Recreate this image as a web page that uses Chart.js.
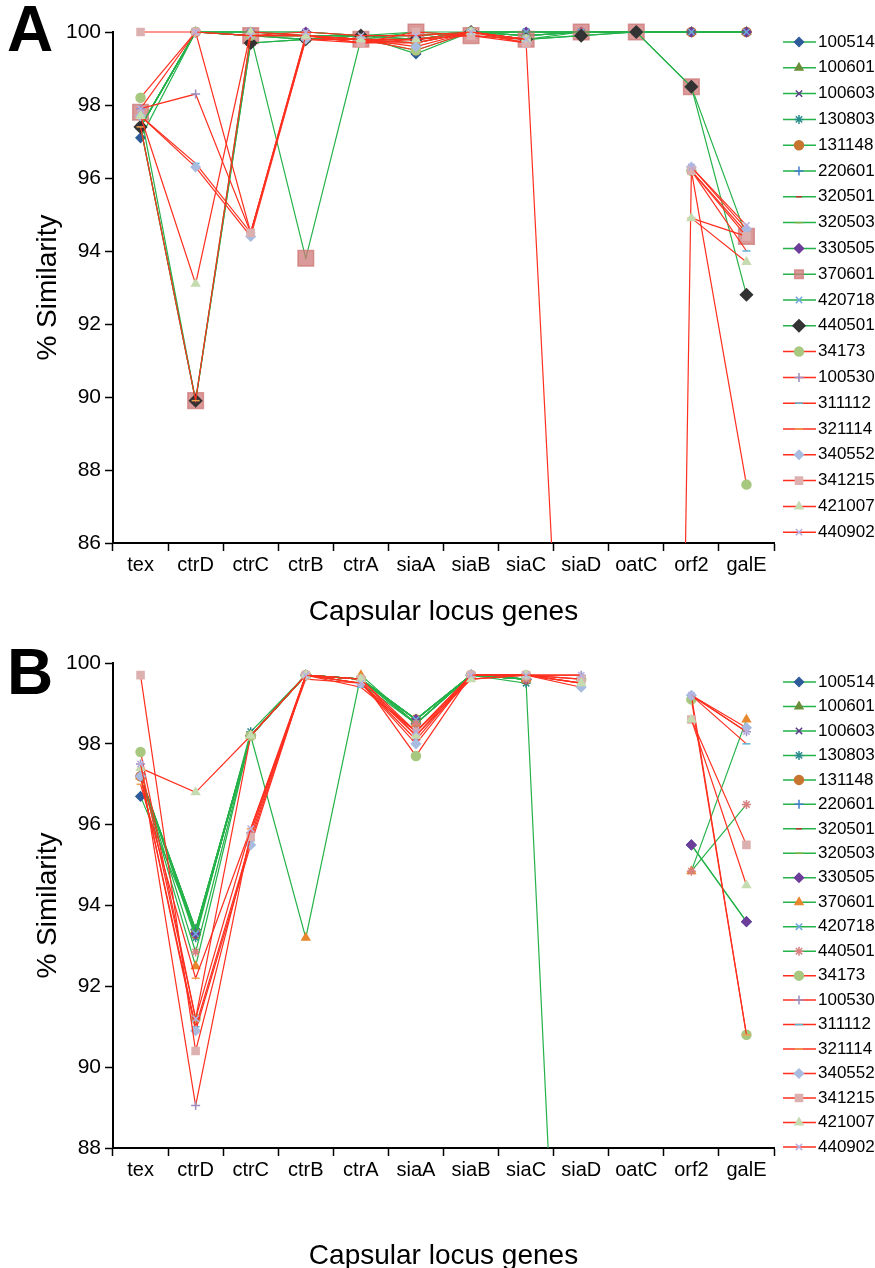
<!DOCTYPE html>
<html>
<head>
<meta charset="utf-8">
<script src="https://cdn.jsdelivr.net/npm/chart.js@4.4.1/dist/chart.umd.min.js"></script>
<style>
html,body{margin:0;padding:0;background:#fff;overflow:hidden;width:875px;height:1268px;}
.panel{position:absolute;left:0;width:875px;}
.letter{position:absolute;left:7px;font:bold 64px "Liberation Sans",Arial,sans-serif;line-height:1;color:#000;}
</style>
</head>
<body>
<div class="panel" style="top:0;height:634px"><canvas id="chartA" width="875" height="634"></canvas></div>
<div class="letter" style="top:-3px">A</div>
<div class="panel" style="top:634px;height:660px"><canvas id="chartB" width="875" height="660"></canvas></div>
<div class="letter" style="top:640px">B</div>
<script>
// 遺伝子（横軸）と株名
const genes = ['tex', 'ctrD', 'ctrC', 'ctrB', 'ctrA', 'siaA', 'siaB', 'siaC', 'siaD', 'oatC', 'orf2', 'galE'];
const strains = ['100514', '100601', '100603', '130803', '131148', '220601', '320501', '320503',
                 '330505', '370601', '420718', '440501', '34173', '100530', '311112', '321114',
                 '340552', '341215', '421007', '440902'];

// パネルA（緑の系列）
const A_100514 = [97.1, 100, 99.9, 99.8, 99.9, 99.4, 100, 99.9, 100, 100, 100, 100];
const A_100601 = [97.4, 89.9, 99.7, 99.8, 99.8, 99.7, 100, 99.9, 100, 100, 100, 100];
const A_100603 = [97.4, 100, 100, 100, 99.9, 100, 100, 100, 100, 100, 100, 100];
const A_130803 = [97.4, 100, 99.9, 99.9, 99.9, 99.9, 100, 100, 100, 100, 100, 100];
const A_131148 = [97.4, 100, 99.9, 99.9, 99.8, 99.5, 100, 99.8, 99.9, 100, 100, 100];
const A_220601 = [97.4, 100, 100, 99.9, 99.9, 99.9, 100, 100, 100, 100, 100, 100];
const A_320501 = [97.4, 100, 99.9, 99.9, 99.8, 99.8, 100, 99.9, 100, 100, 100, 100];
const A_320503 = [97.4, 100, 99.9, 99.8, 99.8, 99.8, 100, 99.9, 100, 100, 100, 100];
const A_330505 = [97.4, 100, 100, 100, 99.9, 99.9, 100, 100, 100, 100, 100, 100];
const A_370601 = [97.8, 89.9, 99.9, 93.8, 99.8, 100, 99.9, 99.8, 100, 100, 98.5, 94.4];
const A_420718 = [97.4, 100, 100, 99.9, 99.9, 99.8, 100, 100, 100, 100, 100, 100];
const A_440501 = [97.4, 89.9, 99.7, 99.8, 99.9, 99.8, 100, 99.8, 99.9, 100, 98.5, 92.8];
// パネルA（赤の系列）
const A_34173  = [98.2, 100, 99.9, 99.9, 99.8, 99.5, 100, 99.8, null, null, 96.2, 87.6];
const A_100530 = [97.9, 98.3, 94.5, 99.9, 99.8, 99.7, 100, 99.7, 70, 0, 96.2, 94.5];
const A_311112 = [97.7, 96.4, 94.5, 99.8, 99.7, 99.8, 99.9, 99.8, null, null, 96.2, 94.0];
const A_321114 = [97.4, 89.9, 99.9, 99.9, 99.7, 99.7, 100, 99.8, null, null, 94.9, 94.4];
const A_340552 = [97.7, 96.3, 94.4, 99.8, 99.8, 99.6, 100, 99.7, null, null, 96.3, 94.6];
const A_341215 = [100, 100, 94.5, 99.9, 99.7, 100, 99.9, 99.7, null, null, 96.2, 94.4];
const A_421007 = [97.7, 93.1, 100, 99.9, 99.8, 99.8, 100, 99.8, null, null, 94.9, 93.7];
const A_440902 = [97.9, 100, 99.9, 100, 99.9, 99.9, 100, 99.8, null, null, 96.3, 94.7];

// パネルB（緑の系列）
const B_100514 = [96.7, 93.4, 98.2, 99.7, 99.6, 98.5, 99.7, 99.6, null, null, 95.5, 93.6];
const B_100601 = [97.2, 93.4, 98.2, 99.7, 99.6, 98.6, 99.7, 99.6, null, null, null, null];
const B_100603 = [97.2, 93.3, 98.2, 99.7, 99.6, 98.6, 99.7, 99.6, null, null, null, null];
const B_130803 = [97.2, 93.2, 98.3, 99.7, 99.5, 98.5, 99.7, 99.5, 70.7, null, null, null];
const B_131148 = [97.2, 93.3, 98.2, 99.7, 99.6, 98.6, 99.7, 99.6, null, null, null, null];
const B_220601 = [97.2, 93.4, 98.2, 99.7, 99.6, 98.6, 99.7, 99.6, null, null, null, null];
const B_320501 = [97.2, 93.3, 98.2, 99.7, 99.6, 98.5, 99.7, 99.6, null, null, null, null];
const B_320503 = [97.2, 93.4, 98.2, 99.7, 99.6, 98.6, 99.7, 99.6, null, null, null, null];
const B_330505 = [97.2, 93.3, 98.2, 99.7, 99.6, 98.6, 99.7, 99.6, null, null, 95.5, 93.6];
const B_370601 = [97.2, 92.5, 98.2, 93.2, 99.7, 98.5, 99.7, 99.6, null, null, 94.85, 98.6];
const B_420718 = [97.2, 93.3, 98.2, 99.7, 99.6, 98.6, 99.7, 99.6, null, null, null, null];
const B_440501 = [97.2, 92.85, 98.2, 99.7, 99.6, 98.5, 99.7, 99.6, null, null, 94.85, 96.5];
// パネルB（赤の系列）
const B_34173  = [97.8, 91.2, 98.2, 99.7, 99.6, 97.7, 99.7, 99.7, 99.6, null, 99.1, 90.8];
const B_100530 = [97.5, 89.05, 95.8, 99.7, 99.5, 98.1, 99.7, 99.7, 99.7, null, 99.2, 98.3];
const B_311112 = [97.2, 91.0, 95.6, 99.7, 99.4, 98.3, 99.6, 99.7, 99.5, null, 99.2, 98.0];
const B_321114 = [97.0, 92.2, 95.9, 99.6, 99.5, 98.2, 99.7, 99.7, 99.5, null, 99.2, 90.8];
const B_340552 = [97.2, 90.9, 95.5, 99.7, 99.5, 98.0, 99.7, 99.7, 99.4, null, 99.2, 98.4];
const B_341215 = [99.7, 90.4, 95.7, 99.7, 99.6, 98.3, 99.7, 99.7, 99.6, null, 98.6, 95.5];
const B_421007 = [97.4, 96.8, 98.2, 99.7, 99.6, 98.2, 99.6, 99.7, 99.5, null, 98.6, 94.5];
const B_440902 = [97.5, 91.2, 95.9, 99.7, 99.5, 98.3, 99.7, 99.7, 99.7, null, 99.2, 98.3];

const seriesA = [A_100514, A_100601, A_100603, A_130803, A_131148, A_220601, A_320501, A_320503,
                 A_330505, A_370601, A_420718, A_440501, A_34173, A_100530, A_311112, A_321114,
                 A_340552, A_341215, A_421007, A_440902];
const seriesB = [B_100514, B_100601, B_100603, B_130803, B_131148, B_220601, B_320501, B_320503,
                 B_330505, B_370601, B_420718, B_440501, B_34173, B_100530, B_311112, B_321114,
                 B_340552, B_341215, B_421007, B_440902];

// 見た目
const GREEN = '#25b24a';
const RED = '#ff2f1f';
const FONT = '"Liberation Sans", Arial, sans-serif';
const markerA = ['rectRot', 'triangle', 'crossRot', 'star', 'circle', 'cross', 'line', 'line',
                 'rectRot', 'rect', 'crossRot', 'rectRot', 'circle', 'cross', 'line', 'line',
                 'rectRot', 'rect', 'triangle', 'crossRot'];
const markerB = markerA.slice();
markerB[9] = 'triangle';
markerB[11] = 'star';
const colorA = ['#2e5c9a', '#6b8e3a', '#5a3d8a', '#2a8c8c', '#c87530', '#3f7fc8', '#c0392b', '#7cb342',
                '#6d3d9a', 'rgba(205,120,120,0.75)', '#6fa8dc', '#333333', '#a8c880', '#9a8fc0', '#5bb5d5', '#f0a050',
                '#a8bce0', '#ddb0b0', '#c5dbb0', '#b8b0e0'];
const colorB = colorA.slice();
colorB[9] = '#e8872e';
colorB[11] = '#d98080';
const radiusA = [4.5, 4.5, 4.5, 4.5, 4.5, 4.5, 3, 4, 4.5, 11, 4.5, 6, 4.5, 4.5, 4, 4, 4.5, 5, 4.5, 4.5];
const radiusB = [4.5, 4.5, 4.5, 4.5, 4.5, 4.5, 3, 4, 4.5, 4.5, 4.5, 4.5, 4.5, 4.5, 4, 4, 4.5, 5, 4.5, 4.5];

function buildSets(series, markers, colors, radii) {
    return series.map(function(vals, i) {
        return {
            label: strains[i],
            data: vals,
            borderColor: i < 12 ? GREEN : RED,
            borderWidth: 1.2,
            pointStyle: markers[i],
            pointRadius: radii[i],
            pointBackgroundColor: colors[i],
            pointBorderColor: colors[i],
            pointBorderWidth: 1.5,
            tension: 0,
            spanGaps: false,
            order: -i,
            clip: {left: 15, top: 15, right: 15, bottom: 0}
        };
    });
}

// 右側の凡例（線＋マーカー）
const sideLegend = {
    id: 'sideLegend',
    afterDraw(chart, args, opts) {
        const ctx = chart.ctx;
        ctx.save();
        chart.data.datasets.forEach(function(ds, i) {
            const y = opts.top + i * opts.step;
            ctx.strokeStyle = ds.borderColor;
            ctx.lineWidth = 1.5;
            ctx.beginPath();
            ctx.moveTo(opts.x, y);
            ctx.lineTo(opts.x + 33, y);
            ctx.stroke();
            ctx.fillStyle = ds.pointBackgroundColor;
            ctx.strokeStyle = ds.pointBorderColor;
            Chart.helpers.drawPoint(ctx, {pointStyle: ds.pointStyle, radius: Math.min(ds.pointRadius, 6), borderWidth: 1.5, rotation: 0}, opts.x + 16, y);
            ctx.fillStyle = '#000';
            ctx.font = '17px ' + FONT;
            ctx.textBaseline = 'middle';
            ctx.textAlign = 'left';
            ctx.fillText(ds.label, opts.x + 35, y);
        });
        ctx.restore();
    }
};

function makeChart(id, series, markers, colors, radii, yMin, plotTop, plotBottom, canvasH, titlePad, legendTop, legendStep) {
    return new Chart(document.getElementById(id), {
        type: 'line',
        data: { labels: genes, datasets: buildSets(series, markers, colors, radii) },
        plugins: [sideLegend],
        options: {
            responsive: false,
            animation: false,
            layout: { padding: { left: 0, top: plotTop, right: 101, bottom: 0 } },
            plugins: {
                legend: { display: false },
                tooltip: { enabled: false },
                sideLegend: { x: 783, top: legendTop, step: legendStep }
            },
            scales: {
                x: {
                    offset: true,
                    grid: { offset: true, drawOnChartArea: false, color: '#000', tickLength: 8, tickWidth: 1.5 },
                    border: { color: '#000', width: 2 },
                    ticks: { color: '#000', font: { family: FONT, size: 20 }, padding: 2, maxRotation: 0 },
                    title: { display: true, text: 'Capsular locus genes', color: '#000',
                             font: { family: FONT, size: 28 }, padding: { top: 0, bottom: titlePad } },
                    afterFit: function(scale) { scale.height = canvasH - plotBottom; }
                },
                y: {
                    min: yMin, max: 100,
                    grid: { drawOnChartArea: false, color: '#000', tickLength: 8, tickWidth: 1.5 },
                    border: { color: '#000', width: 2 },
                    ticks: { stepSize: 2, color: '#000', font: { family: FONT, size: 21 }, padding: 4 },
                    title: { display: true, text: '% Similarity', color: '#000',
                             font: { family: FONT, size: 28 }, padding: { top: 31, bottom: 0 } },
                    afterFit: function(scale) { scale.width = 113; }
                }
            }
        }
    });
}

makeChart('chartA', seriesA, markerA, colorA, radiusA, 86, 32, 543, 634, 5, 42, 25.8);
makeChart('chartB', seriesB, markerB, colorB, radiusB, 88, 29, 514, 660, 21, 48, 24.47);
</script>
</body>
</html>
